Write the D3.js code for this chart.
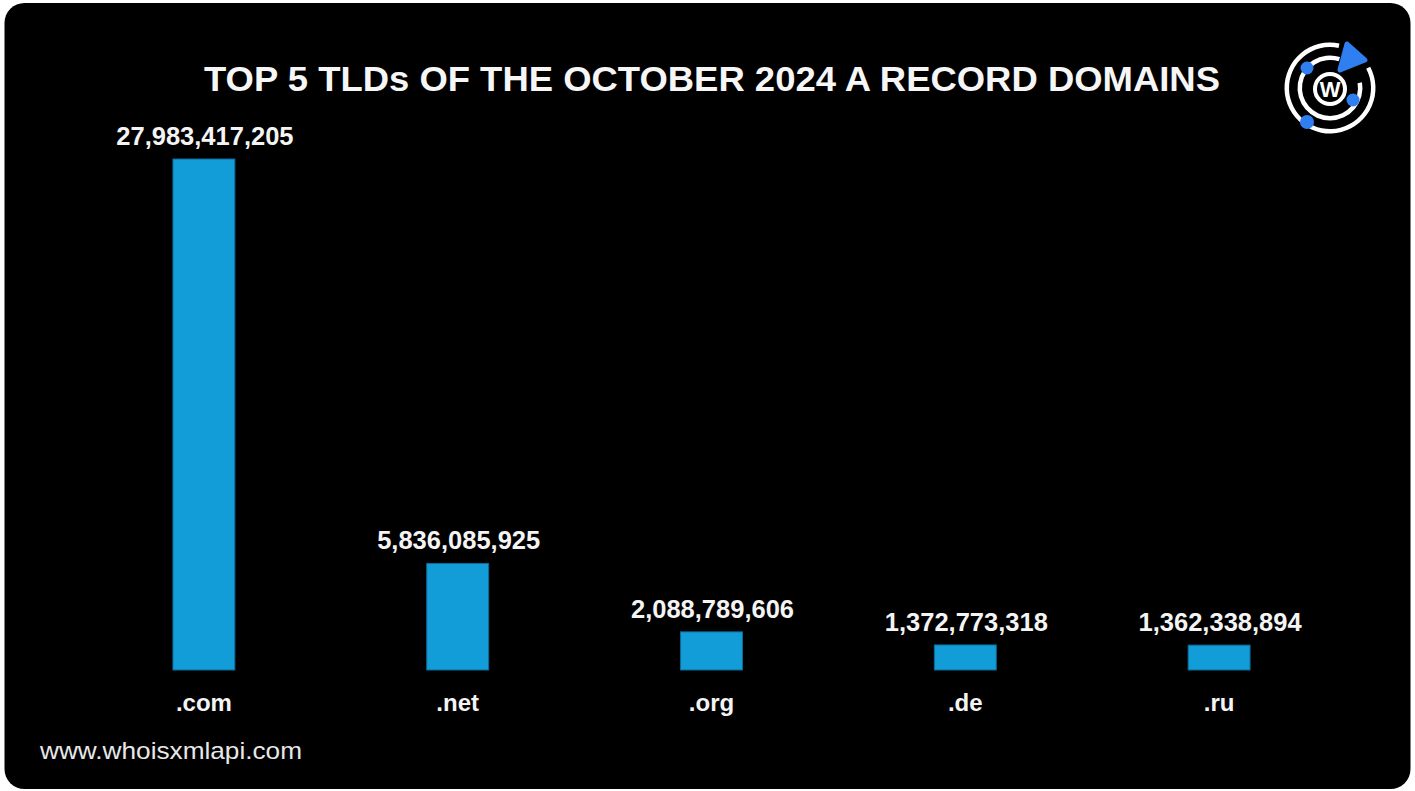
<!DOCTYPE html>
<html><head><meta charset="utf-8">
<script src="https://cdn.jsdelivr.net/npm/d3@7"></script>
<style>html,body{margin:0;padding:0;background:#fff;}svg{display:block;}</style>
</head><body>
<svg id="chart" width="1415" height="791"></svg>
<script>
const categories = [".com", ".net", ".org", ".de", ".ru"];
const values = [27983417205, 5836085925, 2088789606, 1372773318, 1362338894];
const titleText = "TOP 5 TLDs OF THE OCTOBER 2024 A RECORD DOMAINS";
const footerText = "www.whoisxmlapi.com";

const svg = d3.select("#chart");
const font = "'Liberation Sans', Arial, Helvetica, sans-serif";

svg.append("rect").attr("x", 4.5).attr("y", 3).attr("width", 1406).attr("height", 786)
  .attr("rx", 20).attr("fill", "#000");

const x = d3.scaleBand().domain(categories).range([77, 1346])
  .paddingInner(0.756).paddingOuter(0.378);
const y = d3.scaleLinear().domain([0, values[0]]).range([670, 159]);

const data = categories.map((c, i) => ({c, v: values[i]}));

svg.append("g").selectAll("rect").data(data).join("rect")
  .attr("x", d => x(d.c)).attr("y", d => y(d.v))
  .attr("width", x.bandwidth()).attr("height", d => y(0) - y(d.v))
  .attr("fill", "#139dd8").attr("stroke", "#0b6a96").attr("stroke-width", 1);

svg.append("g").selectAll("text").data(data).join("text")
  .attr("x", d => x(d.c) + x.bandwidth() / 2 + 1).attr("y", d => y(d.v) - 14)
  .attr("text-anchor", "middle").attr("fill", "#f4f4f4")
  .style("font-family", font).style("font-weight", "bold").style("font-size", "25.5px")
  .text(d => d3.format(",")(d.v));

svg.append("g").selectAll("text").data(data).join("text")
  .attr("x", d => x(d.c) + x.bandwidth() / 2).attr("y", 711)
  .attr("text-anchor", "middle").attr("fill", "#f4f4f4")
  .style("font-family", font).style("font-weight", "bold").style("font-size", "24px")
  .text(d => d.c);

svg.append("text").attr("x", 204).attr("y", 91)
  .attr("fill", "#f6f6f6").attr("textLength", 1016).attr("lengthAdjust", "spacingAndGlyphs")
  .style("font-family", font).style("font-weight", "bold").style("font-size", "35px")
  .text(titleText);

svg.append("text").attr("x", 40).attr("y", 759)
  .attr("fill", "#e8e8e8").attr("textLength", 262).attr("lengthAdjust", "spacingAndGlyphs")
  .style("font-family", font).style("font-size", "24px")
  .text(footerText);

// logo
const logo = svg.append("g").attr("transform", "translate(1330,88)");
const arc = d3.arc();
const deg = Math.PI / 180;
logo.append("path").attr("d", arc({innerRadius: 41, outerRadius: 45.5, startAngle: 62 * deg, endAngle: 372 * deg}))
  .attr("fill", "#fff");
logo.append("path").attr("d", arc({innerRadius: 28, outerRadius: 32.5, startAngle: 80 * deg, endAngle: 378 * deg}))
  .attr("fill", "#fff");
logo.append("circle").attr("cx", 0).attr("cy", 1).attr("r", 15)
  .attr("fill", "none").attr("stroke", "#fff").attr("stroke-width", 4);
logo.append("text").attr("x", 0).attr("y", 9).attr("text-anchor", "middle")
  .attr("fill", "#fff").style("font-family", font).style("font-weight", "bold").style("font-size", "22px")
  .text("W");
logo.append("circle").attr("cx", -23).attr("cy", -20).attr("r", 6.5).attr("fill", "#2f7ff0");
logo.append("circle").attr("cx", 23).attr("cy", 12).attr("r", 6.5).attr("fill", "#2f7ff0");
logo.append("circle").attr("cx", -23).attr("cy", 34).attr("r", 7).attr("fill", "#2f7ff0");
logo.append("path").attr("d", "M17,-44 L35,-28 L10,-18 Z")
  .attr("fill", "#2f7ff0").attr("stroke", "#2f7ff0").attr("stroke-width", 5).attr("stroke-linejoin", "round");
</script>
</body></html>
